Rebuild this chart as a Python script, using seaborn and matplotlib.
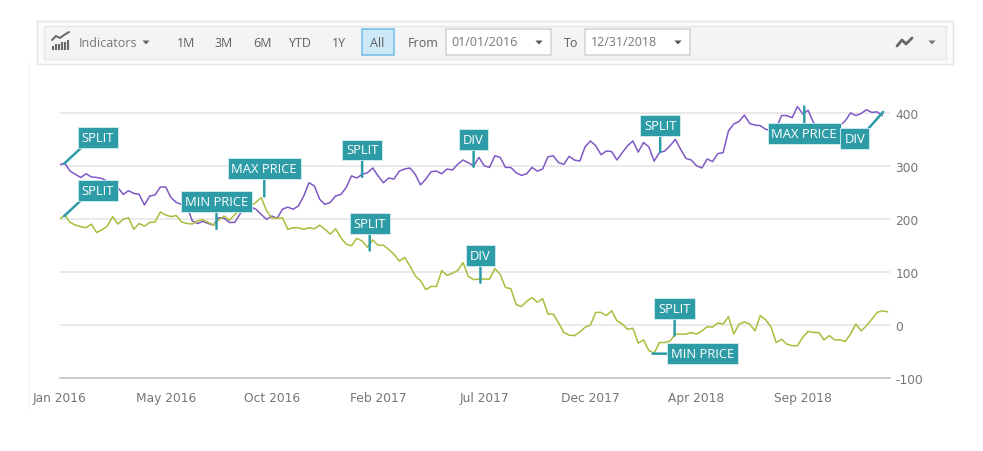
import pandas as pd
import matplotlib.pyplot as plt
import matplotlib.patches as mpatches
import seaborn as sns

# Valores (una muestra por semana)
purple_values = [
    303, 306, 291, 285, 279, 286, 280, 279, 277, 272, 263, 260, 247, 254, 249, 247,
    227, 244, 246, 261, 261, 241, 232, 228, 225, 197, 192, 196, 192, 189, 203, 202,
    194, 194, 210, 223, 223, 219, 209, 200, 206, 202, 219, 223, 219, 225, 244, 269,
    263, 238, 228, 232, 244, 247, 260, 282, 278, 285, 288, 297, 282, 269, 278, 276,
    291, 295, 297, 285, 265, 276, 290, 291, 286, 295, 293, 304, 312, 307, 301, 317,
    301, 298, 320, 317, 298,
    298, 288, 283, 286, 298, 291, 295, 318, 320, 307, 304, 319, 312, 310, 337, 348,
    339, 322, 329, 328, 312, 326, 339, 348, 327, 345, 337, 310, 326, 329, 339, 351,
    332, 315, 312, 301, 297, 314, 309, 324, 326, 367, 380, 385, 397, 381, 378, 377,
    370, 368, 372, 396, 396, 392, 413, 399, 406, 383, 374, 371, 368, 368, 377, 386,
    401, 396, 400, 407, 402, 403, 396,
]
olive_values = [
    200, 208, 194, 189, 186, 184, 191, 175, 180, 187, 205, 191, 200, 203, 181, 192,
    187, 194, 195, 214, 208, 205, 207, 195, 192, 191, 197, 199, 194, 189, 199, 206,
    198, 209, 216, 213, 225, 232, 241, 216, 202, 202, 203, 181, 184, 184, 181, 184,
    182, 189, 181, 172, 182, 165, 153, 150, 164, 159, 147, 161, 151, 151, 143, 134,
    121, 128, 112, 93, 84, 67, 73, 73, 103, 94, 98, 103, 118, 92, 86, 87,
    87, 87, 107, 96, 71,
    69, 39, 35, 45, 52, 43, 50, 21, 21, 4, -14, -19, -20, -13, -4, 0,
    24, 24, 18, 27, 8, 2, -8, -6, -34, -28, -48, -53, -33, -33, -30, -17,
    -17, -17, -14, -17, -11, -3, -4, 4, 2, 16, -17, 2, 6, 2, -11, 18,
    10, -3, -33, -27, -36, -39, -39, -23, -12, -14, -14, -28, -20, -28, -28, -31,
    -17, 2, -11, -1, 11, 24, 27, 25,
]
tick_dates = ['2016-01-01', '2016-05-20', '2016-10-07', '2017-02-24',
              '2017-07-14', '2017-12-01', '2018-04-20', '2018-09-07']
tick_labels = ['Jan 2016', 'May 2016', 'Oct 2016', 'Feb 2017',
               'Jul 2017', 'Dec 2017', 'Apr 2018', 'Sep 2018']
y_ticks = [-100, 0, 100, 200, 300, 400]

# Banderas del grafico: texto, fecha y valor
flag_text = ['SPLIT', 'SPLIT', 'MIN PRICE', 'MAX PRICE', 'SPLIT', 'DIV', 'SPLIT',
             'DIV', 'SPLIT', 'MAX PRICE', 'DIV', 'SPLIT', 'MIN PRICE']
flag_dates = ['2016-01-07', '2016-01-07', '2016-07-26', '2016-09-27', '2017-02-03',
              '2017-06-30', '2017-02-13', '2017-07-09', '2018-03-03', '2018-09-09',
              '2018-12-22', '2018-03-22', '2018-02-21']
flag_values = [305, 206, 182, 243, 280, 299, 141, 80, 327, 413, 403, -20, -54]
# Desplazamiento de la caja en pixeles y punto de salida de la linea
flag_dx = [34, 34, 0, 0, 0, 0, 0, 0, 0, 0, -28.5, 0, 49.6]
flag_dy = [26, 26, 27, 28, 27, 27, 27, 27, 26.6, -26.6, -27, 27, 0]
flag_rel = [(0.1, 0), (0.1, 0), (0.5, 0), (0.5, 0), (0.5, 0), (0.5, 0), (0.5, 0),
            (0.5, 0), (0.5, 0), (0.5, 1), (1, 1), (0.5, 0), (0, 0.5)]

W, H = 983, 452
AX_LEFT, AX_RIGHT, AX_TOP, AX_BOTTOM = 59.5, 890.0, 90.0, 379.0
GREY = '#757575'
TEAL = '#2e9ca6'

sns.set_theme(style='white')
plt.rcParams['font.family'] = ['DejaVu Sans']
plt.rcParams['axes.unicode_minus'] = False

fig = plt.figure(figsize=(W / 100, H / 100), dpi=100, facecolor='white')
ax = fig.add_axes([AX_LEFT / W, 1 - AX_BOTTOM / H, (AX_RIGHT - AX_LEFT) / W, (AX_BOTTOM - AX_TOP) / H])

weeks = pd.date_range('2016-01-01', periods=len(purple_values), freq='7D')
weeks_b = pd.date_range('2016-01-01', periods=len(olive_values), freq='7D')
sns.lineplot(x=weeks, y=purple_values, color='#7f58c4', linewidth=1.1, ax=ax)
sns.lineplot(x=weeks_b, y=olive_values, color='#a9bd3c', linewidth=1.1, ax=ax)

ax.set(xlabel='', ylabel='')
ax.set_xlim(pd.Timestamp('2016-01-01'), pd.Timestamp('2018-12-31'))
ax.set_ylim(-100, 400 + (114.5 - AX_TOP) / 0.53)
ax.set_xticks(pd.to_datetime(tick_dates))
ax.set_xticklabels(tick_labels)
ax.set_yticks(y_ticks)
ax.yaxis.tick_right()
ax.grid(axis='y', color='#e6e6e6', linewidth=1.2)
ax.set_axisbelow(True)
sns.despine(ax=ax, left=True, right=True, top=True)
ax.spines['bottom'].set_color('#c0c0c0')
ax.spines['bottom'].set_linewidth(1.1)
ax.tick_params(axis='x', length=4.5, width=1.1, color='#bdbdbd', labelcolor=GREY, labelsize=8.8, pad=5)
ax.tick_params(axis='y', length=0, labelcolor=GREY, labelsize=8.8, pad=4)
ax.patch.set_alpha(0)

for txt, d, v, dx, dy, rel in zip(flag_text, flag_dates, flag_values, flag_dx, flag_dy, flag_rel):
    ax.annotate(txt, xy=(pd.Timestamp(d), v), xytext=(dx, dy), textcoords='offset pixels',
                ha='center', va='center', color='white', fontsize=9.4, family='Open Sans',
                bbox=dict(boxstyle='square,pad=0.3', fc=TEAL, ec='#d5eef0', lw=0.6),
                arrowprops=dict(arrowstyle='-', color=TEAL, lw=1.8, shrinkA=0, shrinkB=0,
                                relpos=rel, patchA=None),
                zorder=5, annotation_clip=False)

# Barra de herramientas en coordenadas de pixel
top = fig.add_axes([0, 0, 1, 1], zorder=10)
top.set_xlim(0, W)
top.set_ylim(H, 0)
top.axis('off')


def box(x0, y0, x1, y1, fc, ec, lw=1.0):
    top.add_patch(mpatches.Rectangle((x0, y0), x1 - x0, y1 - y0, fc=fc, ec=ec, lw=lw))


def label(x, text, color='#5f5f5f', size=9.0, ha='center', y=43.5):
    top.text(x, y, text, ha=ha, va='center', color=color, fontsize=size, family='Open Sans')


def caret(x, y, color='#666666', half=3.6):
    top.add_patch(mpatches.Polygon([(x - half, y - 2), (x + half, y - 2), (x, y + 2)], fc=color, ec='none'))


top.plot([29, 29], [62, 410], color='#f6f6f6', lw=1)
box(36.5, 21.5, 952.5, 64.5, '#fbfbfb', '#e3e5e8')
box(43.5, 26.5, 945.5, 59.5, '#f3f4f6', '#e6e8ea')
box(361.5, 29.5, 393.5, 55.5, '#cde8f6', '#6fbce6', 1.1)
box(445.5, 30, 550.5, 55.5, 'white', '#d2d2d2', 1.1)
box(584.5, 30, 689.5, 55.5, 'white', '#d2d2d2', 1.1)

label(108, 'Indicators', color='#777777')
caret(146, 43.5)
for x, t in zip([186, 224, 262, 300, 339], ['1M', '3M', '6M', 'YTD', '1Y']):
    label(x, t)
label(377.5, 'All')
label(423, 'From')
label(571, 'To')
label(451, '01/01/2016', color='#777777', ha='left', y=42)
label(591, '12/31/2018', color='#777777', ha='left', y=42)
caret(539, 43.5, '#555555')
caret(678, 43.5, '#555555')
caret(932, 43.5, '#777777')

# Iconos
for i, h in enumerate([4, 6, 6, 8, 8, 10]):
    top.plot([53 + i * 3, 53 + i * 3], [51, 51 - h], color='#666666', lw=1.5, solid_capstyle='butt')
top.plot([52, 56, 60, 64, 69], [41, 37, 39, 36, 33], color='#666666', lw=1.4)
top.plot([897, 902, 906, 912], [47, 41, 45, 39], color='#666666', lw=2)

fig.savefig('out.png', dpi=100)
